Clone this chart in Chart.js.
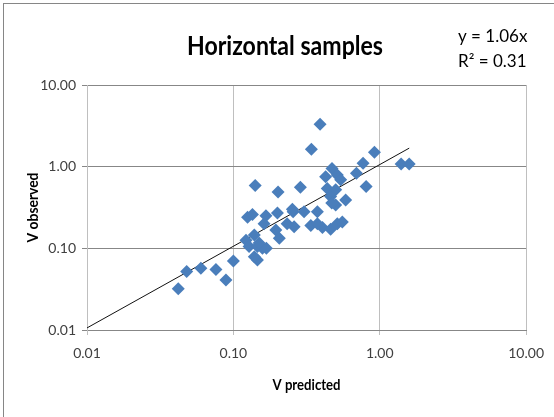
<!DOCTYPE html>
<html>
<head>
<meta charset="utf-8">
<script src="https://cdn.jsdelivr.net/npm/chart.js@4"></script>
<style>
  html, body { margin: 0; padding: 0; background: #fff; }
  #wrap { position: relative; width: 554px; height: 417px; overflow: hidden; }
  #frame { position: absolute; left: 3px; top: 3px; width: 600px; height: 500px; border: 1px solid #868686; }
  canvas { position: absolute; left: 0; top: 0; }
</style>
</head>
<body>
<div id="wrap">
  <div id="frame"></div>
  <canvas id="chart" width="554" height="417"></canvas>
</div>
<script>
// V predicted / V observed pairs
const vPredicted = [
  0.042, 0.048, 0.060, 0.076, 0.089, 0.100, 0.141, 0.202, 0.287, 0.125,
  0.135, 0.167, 0.200, 0.162, 0.195, 0.206, 0.256, 0.260, 0.233, 0.304,
  0.338, 0.375, 0.406, 0.122, 0.139, 0.128, 0.146, 0.158, 0.146, 0.139,
  0.391, 0.341, 0.920, 1.40, 1.59, 0.769, 0.693, 0.807, 0.472, 0.427,
  0.513, 0.541, 0.438, 0.500, 0.462, 0.585, 0.500, 0.462, 0.513, 0.555,
  0.253, 0.150, 0.470, 0.375, 0.168
];
const vObserved = [
  0.032, 0.052, 0.057, 0.055, 0.041, 0.070, 0.59, 0.49, 0.56, 0.24,
  0.26, 0.25, 0.27, 0.20, 0.168, 0.133, 0.28, 0.184, 0.20, 0.28,
  0.19, 0.28, 0.18, 0.126, 0.146, 0.105, 0.105, 0.100, 0.072, 0.079,
  3.30, 1.63, 1.50, 1.08, 1.08, 1.10, 0.83, 0.57, 0.95, 0.75,
  0.79, 0.69, 0.54, 0.52, 0.43, 0.39, 0.34, 0.171, 0.20, 0.21,
  0.30, 0.116, 0.36, 0.20, 0.100
];

// trendline (forced through origin)
const slope = 1.06;
const rSquared = 0.31;
const trendX = [0.01, 1.59];

const tickValues = [0.01, 0.1, 1, 10];

const title = 'Horizontal samples';
const xTitle = 'V predicted';
const yTitle = 'V observed';

const FONT = 'Lato, "Liberation Sans", sans-serif';

const points = vPredicted.map((x, i) => ({ x: x, y: vObserved[i] }));
const trend = trendX.map(x => ({ x: x, y: slope * x }));

// draw text squeezed to a given width (calibri is narrower than what we have)
function fitText(ctx, text, x, y, w) {
  const m = ctx.measureText(text).width;
  const sx = Math.min(1, w / m);
  ctx.save();
  ctx.translate(x, y);
  ctx.scale(sx, 1);
  ctx.fillText(text, 0, 0);
  ctx.restore();
}

const textPlugin = {
  id: 'texts',
  afterDraw(chart) {
    const ctx = chart.ctx;
    const area = chart.chartArea;
    ctx.save();
    ctx.fillStyle = '#000';
    ctx.textAlign = 'center';
    ctx.textBaseline = 'middle';
    ctx.font = 'bold 27px ' + FONT;
    fitText(ctx, title, 285, 46, 196);

    ctx.font = '17px ' + FONT;
    ctx.textAlign = 'left';
    fitText(ctx, 'y = ' + slope.toFixed(2) + 'x', 458, 37, 70);
    fitText(ctx, 'R\u00B2 = ' + rSquared.toFixed(2), 458, 62, 70);

    ctx.font = 'bold 15px ' + FONT;
    ctx.textAlign = 'center';
    fitText(ctx, xTitle, (area.left + area.right) / 2, 385, 68);

    ctx.translate(33, (area.top + area.bottom) / 2);
    ctx.rotate(-Math.PI / 2);
    fitText(ctx, yTitle, 0, 0, 70);
    ctx.restore();
  }
};

const setTicks = scale => { scale.ticks = tickValues.map(v => ({ value: v })); };

new Chart(document.getElementById('chart').getContext('2d'), {
  type: 'scatter',
  data: {
    datasets: [
      {
        label: 'samples',
        data: points,
        pointStyle: 'rectRot',
        pointRadius: 6.5,
        pointHoverRadius: 6.5,
        backgroundColor: '#4A7EBB',
        borderColor: '#4A7EBB',
        borderWidth: 0
      },
      {
        label: 'trend',
        data: trend,
        showLine: true,
        pointRadius: 0,
        borderColor: '#111',
        borderWidth: 1
      }
    ]
  },
  options: {
    responsive: false,
    animation: false,
    layout: { padding: { left: 0, top: 85, right: 26, bottom: 0 } },
    plugins: { legend: { display: false }, tooltip: { enabled: false } },
    scales: {
      x: {
        type: 'logarithmic',
        min: 0.01, max: 10,
        afterBuildTicks: setTicks,
        afterFit: s => { s.height = 87; },
        grid: { color: '#BFBFBF', tickLength: 5 },
        border: { color: '#878787' },
        ticks: {
          color: '#404040', padding: 10, maxRotation: 0,
          font: { family: FONT, size: 14 },
          callback: v => Number(v).toFixed(2)
        }
      },
      y: {
        type: 'logarithmic',
        min: 0.01, max: 10,
        afterBuildTicks: setTicks,
        afterFit: s => { s.width = 87; },
        grid: { color: '#878787', tickLength: 5 },
        border: { color: '#BFBFBF' },
        ticks: {
          color: '#404040', padding: 6,
          font: { family: FONT, size: 14 },
          callback: v => Number(v).toFixed(2)
        }
      }
    }
  },
  plugins: [textPlugin]
});
</script>
</body>
</html>
